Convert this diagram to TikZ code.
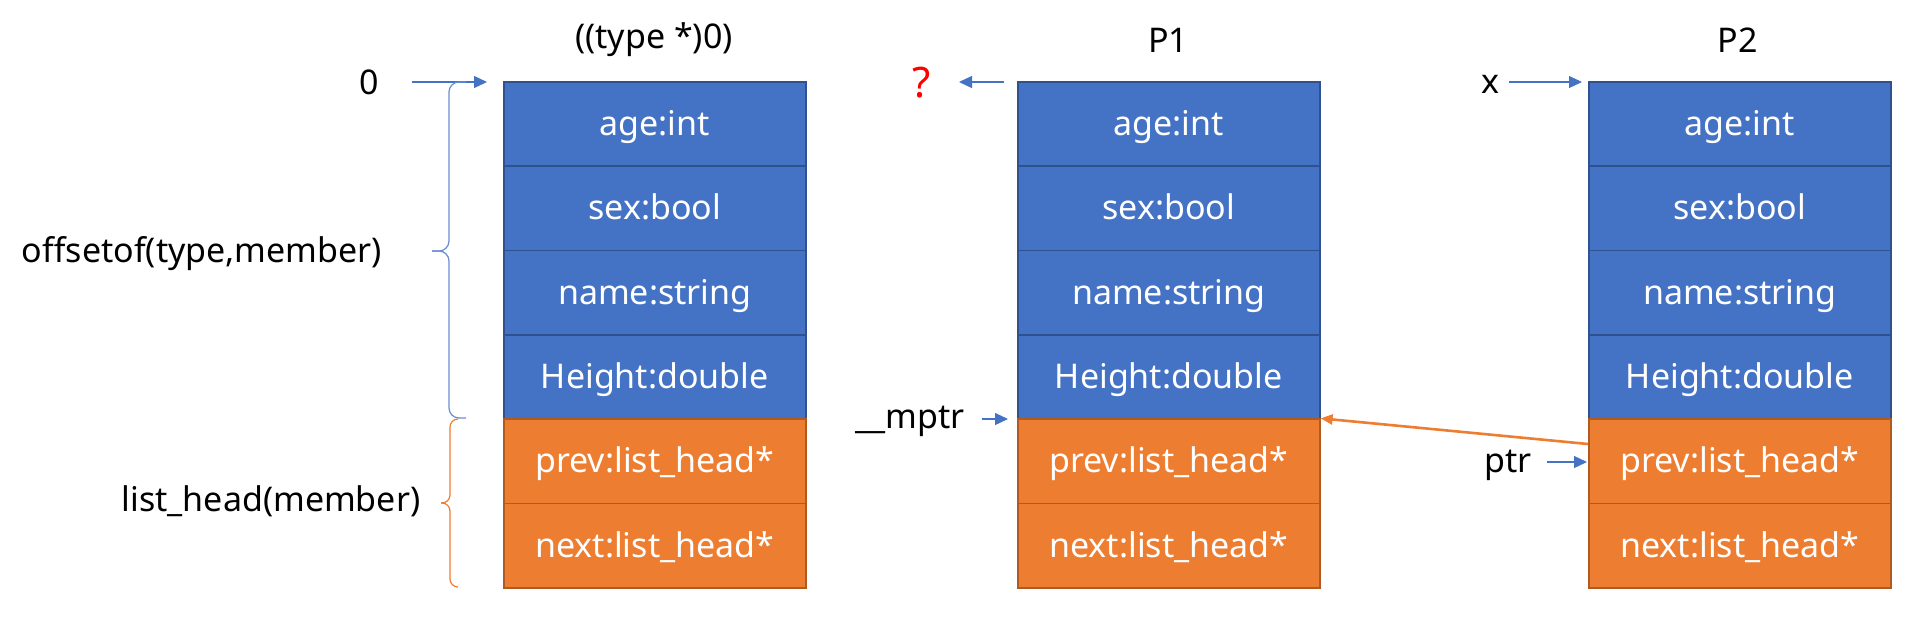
\documentclass[tikz,border=0pt]{standalone}
\usepackage{fontspec}
\setmainfont{Noto Sans}
\usetikzlibrary{arrows.meta}
\definecolor{cblue}{HTML}{4472C4}
\definecolor{cblueD}{HTML}{2F528F}
\definecolor{corange}{HTML}{ED7D31}
\definecolor{corangeD}{HTML}{AE5A21}
\begin{document}
\begin{tikzpicture}[x=0.5pt,y=-0.5pt,
  font=\fontsize{17}{20}\selectfont,
  cell/.style={rectangle, minimum width=151pt, minimum height=42.17pt, inner sep=0pt,
    text=white, line width=0.8pt, anchor=north west, text height=14pt, text depth=2.5pt},
  bcell/.style={cell, fill=cblue, draw=cblueD},
  ocell/.style={cell, fill=corange, draw=corangeD},
  lbl/.style={text=black, inner sep=0pt},
  barrow/.style={draw=cblue, line width=0.6pt, -{Triangle[length=6.5pt,width=6pt]}, fill=cblue},
  oarrow/.style={draw=corange, line width=1.3pt, -{Triangle[length=6pt,width=5pt]}, fill=corange},
  bbrace/.style={draw=cblue!80, line width=0.6pt, rounded corners=5pt},
  obrace/.style={draw=corange, line width=0.6pt, rounded corners=4pt}
]
\useasboundingbox (0,0) rectangle (1924,623);
\foreach \bx/\bn in {503/a,1017/b,1588/c} {
  \node[bcell] (\bn1) at (\bx,81) {age:int};
  \node[bcell] (\bn2) at (\bx,165.33) {sex:bool};
  \node[bcell] (\bn3) at (\bx,249.67) {name:string};
  \node[bcell] (\bn4) at (\bx,334) {Height:double};
  \node[ocell] (\bn5) at (\bx,418.33) {prev:list\_head*};
  \node[ocell] (\bn6) at (\bx,502.67) {next:list\_head*};
}
% titles
\node[lbl] (t1) at (654,40) {((type *)0)};
\node[lbl] (t2) at (1168,40) {P1};
\node[lbl] (t3) at (1737.5,40) {P2};
% left labels
\node[lbl] (zero) at (369,82) {0};
\node[lbl] (offs) at (202,254) {offsetof(type,member)};
\node[lbl] (lhm) at (271,501) {list\_head(member)};
\node[lbl, text=red, font=\fontsize{21}{24}\selectfont\bfseries] (q) at (922,83) {?};
\node[lbl] (mptr) at (910,421) {\_\_mptr};
\node[lbl] (xl) at (1490,84) {x};
\node[lbl] (ptr) at (1508,465) {ptr};
% arrow end points
\coordinate (z0s) at (412,82);
\coordinate (z0e) at (487,82);
\coordinate (qs) at (1004,82);
\coordinate (qe) at (959,82);
\coordinate (ms) at (982,419);
\coordinate (me) at (1008,419);
\coordinate (xs) at (1509,82);
\coordinate (xe) at (1582,82);
\coordinate (ps) at (1547,462);
\coordinate (pe) at (1587,462);
\coordinate (os) at (1588,444);
% arrows
\draw[barrow] (z0s) -- (z0e);
\draw[barrow] (qs) -- (qe);
\draw[barrow] (ms) -- (me);
\draw[barrow] (xs) -- (xe);
\draw[barrow] (ps) -- (pe);
\draw[oarrow] (os) -- (b5.north east);
% braces
\draw[bbrace] (466,82) -| (449,251) -- (432,251);
\draw[bbrace] (432,251) -- (449,251) |- (466,418);
\draw[obrace] (457,419) -| (450,503) -- (441,503);
\draw[obrace] (441,503) -- (450,503) |- (457,587);
\end{tikzpicture}
\end{document}
